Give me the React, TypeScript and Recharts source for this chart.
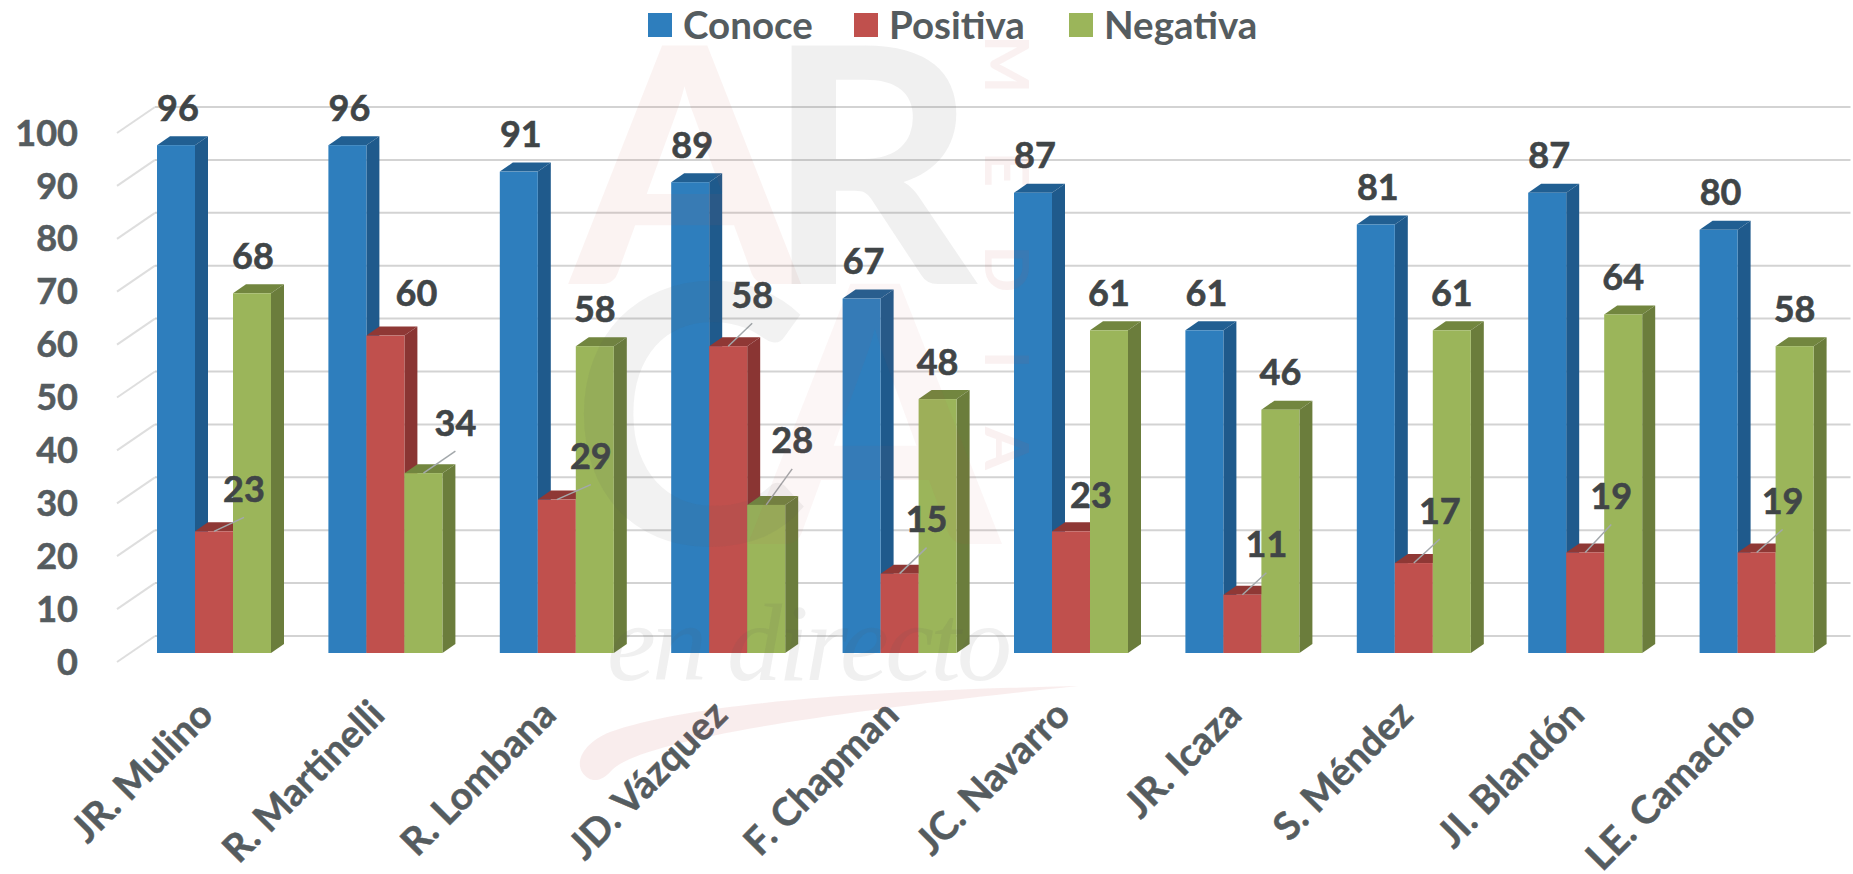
import React from "react";
import {
  BarChart,
  Bar,
  XAxis,
  YAxis,
  CartesianGrid,
  LabelList,
  Legend,
} from "recharts";

const candidates = [
  "JR. Mulino",
  "R. Martinelli",
  "R. Lombana",
  "JD. Vázquez",
  "F. Chapman",
  "JC. Navarro",
  "JR. Icaza",
  "S. Méndez",
  "JI. Blandón",
  "LE. Camacho",
];
const conoce = [96, 96, 91, 89, 67, 87, 61, 81, 87, 80];
const positiva = [23, 60, 29, 58, 15, 23, 11, 17, 19, 19];
const negativa = [68, 34, 58, 28, 48, 61, 46, 61, 64, 58];
const yTicks = [0, 10, 20, 30, 40, 50, 60, 70, 80, 90, 100];

// label nudges [dx, dy] away from the default spot above a bar
const positivaShift = [[30, -5], [31, -5], [34, -6], [24, -14], [27, -17], [20, 1], [24, -13], [26, -15], [26, -19], [26, -14]];
const negativaShift = [[1, 0], [32, -13], [0, 0], [26, -27], [0, 0], [0, 0], [0, 0], [0, 0], [0, 0], [0, 0]];
const conoceShift = conoce.map(() => [2, 0]);
const positivaLeader = [true, false, true, true, true, false, true, true, true, true];
const negativaLeader = [false, true, false, true, false, false, false, false, false, false];
const noLeader = conoce.map(() => false);

const data = candidates.map((name, i) => ({
  name,
  Conoce: conoce[i],
  Positiva: positiva[i],
  Negativa: negativa[i],
}));

const FONT = "Lato, sans-serif";
const AXIS_COLOR = "#555c5f";
const LABEL_COLOR = "#404547";
const DEPTH_X = 13;
const DEPTH_Y = 9;

const legendItems = [
  { name: "Conoce", color: "#2e7ebd", left: 648 },
  { name: "Positiva", color: "#c0504d", left: 854 },
  { name: "Negativa", color: "#9bb55a", left: 1069 },
];

function box3d(front: string, top: string, side: string) {
  return (props: any) => {
    const { x, y, width, height } = props;
    const r = x + width;
    const b = y + height;
    return (
      <g>
        <polygon
          points={`${x},${y} ${x + DEPTH_X},${y - DEPTH_Y} ${r + DEPTH_X},${y - DEPTH_Y} ${r},${y}`}
          fill={top}
        />
        <polygon
          points={`${r},${y} ${r + DEPTH_X},${y - DEPTH_Y} ${r + DEPTH_X},${b - DEPTH_Y} ${r},${b}`}
          fill={side}
        />
        <rect x={x} y={y} width={width} height={height} fill={front} />
      </g>
    );
  };
}

function dataLabel(shift: number[][], leader: boolean[]) {
  return (props: any) => {
    const { x, y, width, value, index } = props;
    const cx = x + width / 2;
    const lx = cx + shift[index][0];
    const ly = y - 37 + shift[index][1];
    return (
      <g>
        {leader[index] && (
          <line x1={cx} y1={y} x2={lx} y2={ly + 28} stroke="#a3a8ab" strokeWidth={1.5} />
        )}
        <text
          x={lx}
          y={ly}
          dy="0.35em"
          textAnchor="middle"
          fontFamily={FONT}
          fontWeight={700}
          fontSize={36}
          fill={LABEL_COLOR}
          stroke={LABEL_COLOR}
          strokeWidth={0.6}
        >
          {value}
        </text>
      </g>
    );
  };
}

function wallLine(props: any) {
  const { x1, x2, y1, key } = props;
  return (
    <g key={key} fill="none">
      <line x1={x1 - 11.5} y1={y1 + 9} x2={x1 + 26.5} y2={y1 - 17} stroke="#dedede" strokeWidth={2} />
      <line x1={x1 + 26.5} y1={y1 - 17} x2={x2 + 8} y2={y1 - 17} stroke="#d3d3d3" strokeWidth={2} />
    </g>
  );
}

function YTick(props: any) {
  const { y, payload } = props;
  return (
    <text
      x={78}
      y={y + 9}
      dy="0.35em"
      textAnchor="end"
      fontFamily={FONT}
      fontWeight={700}
      fontSize={36}
      fill={AXIS_COLOR}
      stroke={AXIS_COLOR}
      strokeWidth={0.6}
    >
      {payload.value}
    </text>
  );
}

function XTick(props: any) {
  const { x, y, payload } = props;
  return (
    <text
      transform={`translate(${x + 1},${y + 56}) rotate(-45)`}
      textAnchor="end"
      fontFamily={FONT}
      fontWeight={700}
      fontSize={38.5}
      fill={AXIS_COLOR}
      stroke={AXIS_COLOR}
      strokeWidth={0.5}
    >
      {payload.value}
    </text>
  );
}

function LegendRow() {
  return (
    <div style={{ position: "relative", width: 1853, height: 50 }}>
      {legendItems.map((item) => (
        <React.Fragment key={item.name}>
          <div
            style={{
              position: "absolute",
              left: item.left,
              top: 13,
              width: 24,
              height: 24,
              background: item.color,
            }}
          />
          <div
            style={{
              position: "absolute",
              left: item.left + 35,
              top: 1,
              fontFamily: FONT,
              fontWeight: 700,
              fontSize: 38.5,
              lineHeight: "46px",
              color: AXIS_COLOR,
            }}
          >
            {item.name}
          </div>
        </React.Fragment>
      ))}
    </div>
  );
}

// the pale "ARCA media" stamp that sits over the whole picture
function Watermark() {
  return (
    <svg
      width={1853}
      height={874}
      style={{ position: "absolute", left: 0, top: 0, pointerEvents: "none" }}
    >
      <g fontFamily={FONT} fontWeight={700}>
        <text x={570} y={284} fontSize={330} fill="#c0504d" fillOpacity={0.07}>A</text>
        <text x={765} y={284} fontSize={330} fill="#555555" fillOpacity={0.09}>R</text>
        <text x={570} y={544} fontSize={360} fill="#555555" fillOpacity={0.08}>C</text>
        <text x={750} y={544} fontSize={360} fill="#c0504d" fillOpacity={0.05}>A</text>
        <text
          transform="translate(985,35) rotate(90)"
          fontSize={62}
          letterSpacing={58}
          fill="#c0504d"
          fillOpacity={0.08}
        >
          MEDIA
        </text>
      </g>
      <text
        x={607}
        y={680}
        fontFamily="Liberation Serif, serif"
        fontStyle="italic"
        fontSize={110}
        textLength={405}
        fill="#555555"
        fillOpacity={0.09}
      >
        en directo
      </text>
      <path
        d="M 1078 686 C 900 690 700 700 610 732 C 585 742 575 760 582 772 C 590 784 602 782 612 770 C 640 742 800 715 1078 686 Z"
        fill="#c0504d"
        fillOpacity={0.1}
      />
    </svg>
  );
}

export default function App() {
  return (
    <div style={{ position: "absolute", left: 0, top: 0, width: 1853, height: 874, overflow: "hidden", background: "#fff" }}>
      <BarChart
        width={1853}
        height={874}
        data={data}
        margin={{ top: 124, right: 10.5, bottom: 0, left: 0 }}
        barCategoryGap={28.5}
        barGap={0}
      >
        <CartesianGrid vertical={false} horizontal={wallLine} horizontalValues={yTicks} />
        <XAxis
          dataKey="name"
          height={221}
          axisLine={false}
          tickLine={false}
          interval={0}
          tick={<XTick />}
        />
        <YAxis
          width={128.5}
          domain={[0, 100]}
          ticks={yTicks}
          axisLine={false}
          tickLine={false}
          tick={<YTick />}
        />
        <Legend
          layout="horizontal"
          verticalAlign="middle"
          align="center"
          content={<LegendRow />}
          wrapperStyle={{ top: 0, left: 0, width: 1853 }}
        />
        <Bar dataKey="Conoce" fill="#2e7ebd" isAnimationActive={false} shape={box3d("#2e7ebd", "#215f92", "#1f5a8c")}>
          <LabelList dataKey="Conoce" content={dataLabel(conoceShift, noLeader)} />
        </Bar>
        <Bar dataKey="Positiva" fill="#c0504d" isAnimationActive={false} shape={box3d("#c0504d", "#8f3835", "#8a3533")}>
          <LabelList dataKey="Positiva" content={dataLabel(positivaShift, positivaLeader)} />
        </Bar>
        <Bar dataKey="Negativa" fill="#9bb55a" isAnimationActive={false} shape={box3d("#9bb55a", "#72863f", "#6b7d3c")}>
          <LabelList dataKey="Negativa" content={dataLabel(negativaShift, negativaLeader)} />
        </Bar>
      </BarChart>
      <Watermark />
    </div>
  );
}
